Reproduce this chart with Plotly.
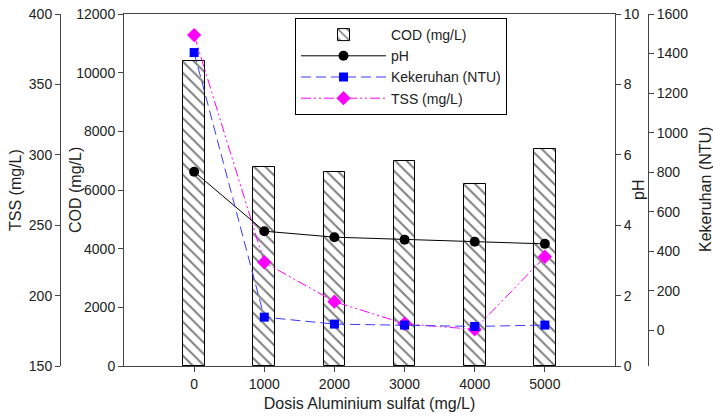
import plotly.graph_objects as go

dosis = [0, 1000, 2000, 3000, 4000, 5000]
cod = [10400, 6800, 6600, 7000, 6200, 7400]
ph = [5.52, 3.83, 3.66, 3.59, 3.53, 3.47]
kekeruhan = [1405, 67, 32, 27, 20, 27]
tss = [385, 223.6, 195.7, 180, 176, 227.6]

W, H = 713, 416
L, R, T, B = 124, 615, 14, 366
FONT = "Liberation Sans, Arial, sans-serif"
AX = "#444444"

fig = go.Figure()
fig.add_trace(go.Bar(
    x=dosis, y=cod, name="COD (mg/L)", width=310, yaxis="y",
    marker=dict(color="white", line=dict(color="black", width=1),
                pattern=dict(shape="\\", fgcolor="black", bgcolor="white", size=8, solidity=0.25)),
))
fig.add_trace(go.Scatter(
    x=dosis, y=ph, name="pH", yaxis="y3", mode="lines+markers",
    line=dict(color="black", width=1),
    marker=dict(symbol="circle", size=10, color="black"),
))
fig.add_trace(go.Scatter(
    x=dosis, y=kekeruhan, name="Kekeruhan (NTU)", yaxis="y4", mode="lines+markers",
    line=dict(color="#3a3aff", width=1, dash="10px,5px"),
    marker=dict(symbol="square", size=9, color="#0000ff"),
))
fig.add_trace(go.Scatter(
    x=dosis, y=tss, name="TSS (mg/L)", yaxis="y2", mode="lines+markers",
    line=dict(color="#ff00ff", width=1, dash="10px,3px,2px,3px,2px,3px"),
    marker=dict(symbol="diamond", size=11, color="#ff00ff"),
))

tickfont = dict(family=FONT, size=14, color="#222222")
common = dict(showgrid=False, zeroline=False, showline=True, linecolor=AX, linewidth=1,
              ticks="outside", ticklen=5, tickcolor=AX, tickfont=tickfont, tickformat="d")

fig.update_layout(
    width=W, height=H,
    margin=dict(l=0, r=0, t=T, b=H - B, pad=0),
    paper_bgcolor="white", plot_bgcolor="white",
    font=dict(family=FONT, size=14, color="#222222"),
    bargap=0,
    xaxis=dict(domain=[L / W, R / W], range=[-1000, 6000], tickvals=dosis,
               mirror=True, **common,
               title=dict(text="Dosis Aluminium sulfat (mg/L)", font=dict(family=FONT, size=16), standoff=7)),
    yaxis=dict(range=[0, 12000], dtick=2000, side="left", anchor="x", **common),
    yaxis2=dict(range=[150, 400], dtick=50, side="left", overlaying="y", anchor="free",
                position=60 / W, **common),
    yaxis3=dict(range=[0, 10], dtick=2, side="right", overlaying="y", anchor="x", **common),
    yaxis4=dict(range=[-180, 1600], tickvals=[0, 200, 400, 600, 800, 1000, 1200, 1400, 1600],
                side="right", overlaying="y", anchor="free", position=648 / W, **common),
    legend=dict(x=295 / W, y=(B - 18) / (B - T), xanchor="left", yanchor="top",
                bordercolor="black", borderwidth=1, bgcolor="white",
                font=dict(family=FONT, size=14, color="#222222"),
                itemwidth=85, tracegroupgap=0),
    showlegend=True,
)

titles = [("TSS (mg/L)", 15), ("COD (mg/L)", 75), ("pH", 638), ("Kekeruhan (NTU)", 705)]
for text, px in titles:
    fig.add_annotation(text=text, x=px / W, y=0.5, xref="paper", yref="paper",
                       xanchor="center", yanchor="middle", textangle=-90, showarrow=False,
                       font=dict(family=FONT, size=16, color="#222222"))

fig.write_html("out.html")
